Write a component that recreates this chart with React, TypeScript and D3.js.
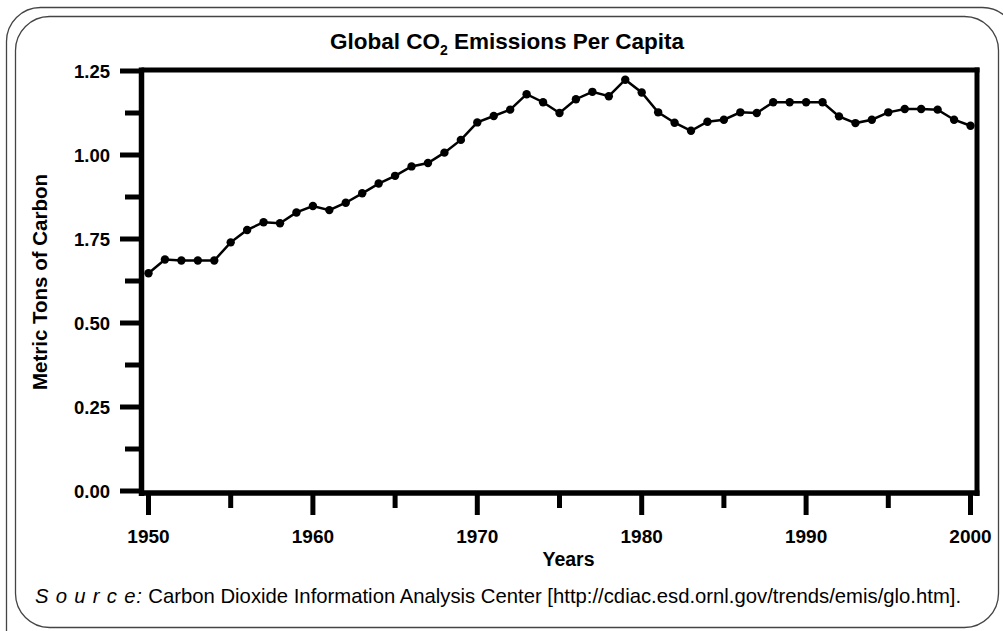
import React from "react";
import * as d3 from "d3";

const years: number[] = [
  1950, 1951, 1952, 1953, 1954, 1955, 1956, 1957, 1958, 1959,
  1960, 1961, 1962, 1963, 1964, 1965, 1966, 1967, 1968, 1969,
  1970, 1971, 1972, 1973, 1974, 1975, 1976, 1977, 1978, 1979,
  1980, 1981, 1982, 1983, 1984, 1985, 1986, 1987, 1988, 1989,
  1990, 1991, 1992, 1993, 1994, 1995, 1996, 1997, 1998, 1999, 2000,
];
const emissions: number[] = [
  0.648, 0.689, 0.686, 0.686, 0.686, 0.74, 0.777, 0.8, 0.797, 0.829,
  0.848, 0.836, 0.858, 0.886, 0.915, 0.938, 0.966, 0.976, 1.007, 1.045,
  1.097, 1.116, 1.135, 1.181, 1.157, 1.125, 1.166, 1.188, 1.175, 1.224,
  1.186, 1.127, 1.096, 1.072, 1.099, 1.105, 1.127, 1.125, 1.157, 1.157,
  1.157, 1.157, 1.115, 1.095, 1.105, 1.127, 1.137, 1.137, 1.135, 1.105, 1.087,
];
const yTickValues: number[] = [0, 0.25, 0.5, 0.75, 1.0, 1.25];
const yTickLabels: string[] = ["0.00", "0.25", "0.50", "1.75", "1.00", "1.25"];
const yMinorTicks: number[] = [0.125, 0.375, 0.625, 0.875, 1.125];
const xTickValues: number[] = [1950, 1960, 1970, 1980, 1990, 2000];
const xMinorTicks: number[] = [1955, 1965, 1975, 1985, 1995];

const title = "Global CO";
const titleSub = "2";
const titleRest = " Emissions Per Capita";
const xTitle = "Years";
const yTitle = "Metric Tons of Carbon";
const sourceLead = "S o u r c e:";
const sourceText =
  " Carbon Dioxide Information Analysis Center [http://cdiac.esd.ornl.gov/trends/emis/glo.htm].";

const W = 1003;
const H = 631;
const FONT = "'Liberation Sans', Arial, Helvetica, sans-serif";

export default function App() {
  const x = d3.scaleLinear().domain([1950, 2000]).range([148.5, 970.5]);
  const y = d3.scaleLinear().domain([0, 1.25]).range([491, 71]);

  const axisLeft = 141.5;
  const axisBottom = 493;
  const frameTop = 70;
  const frameRight = 977;

  const data = years.map((yr, i) => ({ yr, v: emissions[i] }));
  const line = d3
    .line<{ yr: number; v: number }>()
    .x((d) => x(d.yr))
    .y((d) => y(d.v));

  return (
    <svg
      width={W}
      height={H}
      style={{ position: "fixed", left: 0, top: 0, background: "#fff" }}
      fontFamily={FONT}
    >
      <rect x={0} y={0} width={W} height={H} fill="#fff" />
      {/* borders */}
      <rect x={6.5} y={7.5} width={1010} height={660} rx={34} fill="none" stroke="#444" strokeWidth={1.3} />
      <rect x={15.5} y={16.5} width={983} height={611} rx={34} fill="none" stroke="#444" strokeWidth={1.3} />

      {/* title */}
      <text x={507} y={49} textAnchor="middle" fontSize={22.5} fontWeight="bold" fill="#000">
        {title}
        <tspan fontSize={14} dy={6}>{titleSub}</tspan>
        <tspan dy={-6}>{titleRest}</tspan>
      </text>

      {/* frame lines */}
      <line x1={axisLeft} x2={frameRight + 2.5} y1={frameTop} y2={frameTop} stroke="#000" strokeWidth={5} />
      <line x1={frameRight} x2={frameRight} y1={frameTop - 2.5} y2={axisBottom + 3} stroke="#000" strokeWidth={5} />
      <line x1={axisLeft} x2={axisLeft} y1={frameTop - 2.5} y2={axisBottom + 3} stroke="#000" strokeWidth={5.5} />
      <line x1={axisLeft - 2.5} x2={frameRight + 2.5} y1={axisBottom} y2={axisBottom} stroke="#000" strokeWidth={5.5} />

      {/* y ticks */}
      {yTickValues.map((v, i) => (
        <g key={"yt" + v}>
          <line x1={120} x2={axisLeft} y1={y(v)} y2={y(v)} stroke="#000" strokeWidth={5} />
          <text x={110} y={y(v)} dy="0.36em" textAnchor="end" fontSize={18.5} fontWeight="bold" fill="#000">
            {yTickLabels[i]}
          </text>
        </g>
      ))}
      {yMinorTicks.map((v) => (
        <line key={"ym" + v} x1={125} x2={axisLeft} y1={y(v)} y2={y(v)} stroke="#000" strokeWidth={5} />
      ))}

      {/* x ticks */}
      {xTickValues.map((t) => (
        <g key={"xt" + t}>
          <line x1={x(t)} x2={x(t)} y1={axisBottom} y2={515} stroke="#000" strokeWidth={5} />
          <text x={x(t)} y={543} textAnchor="middle" fontSize={19} fontWeight="bold" fill="#000">
            {t}
          </text>
        </g>
      ))}
      {xMinorTicks.map((t) => (
        <line key={"xm" + t} x1={x(t)} x2={x(t)} y1={axisBottom} y2={508} stroke="#000" strokeWidth={5} />
      ))}

      {/* axis titles */}
      <text x={568.5} y={566} textAnchor="middle" fontSize={19.5} fontWeight="bold" fill="#000">
        {xTitle}
      </text>
      <text
        transform={`translate(47, 282) rotate(-90)`}
        textAnchor="middle"
        fontSize={20.5}
        fontWeight="bold"
        fill="#000"
      >
        {yTitle}
      </text>

      {/* data */}
      <path d={line(data) ?? ""} fill="none" stroke="#000" strokeWidth={2.5} />
      {data.map((d) => (
        <circle key={d.yr} cx={x(d.yr)} cy={y(d.v)} r={4.2} fill="#000" />
      ))}

      {/* source */}
      <text x={35} y={603} fontSize={20.3} fill="#000">
        <tspan fontStyle="italic" letterSpacing={0.8}>{sourceLead}</tspan>
        <tspan>{sourceText}</tspan>
      </text>
    </svg>
  );
}
